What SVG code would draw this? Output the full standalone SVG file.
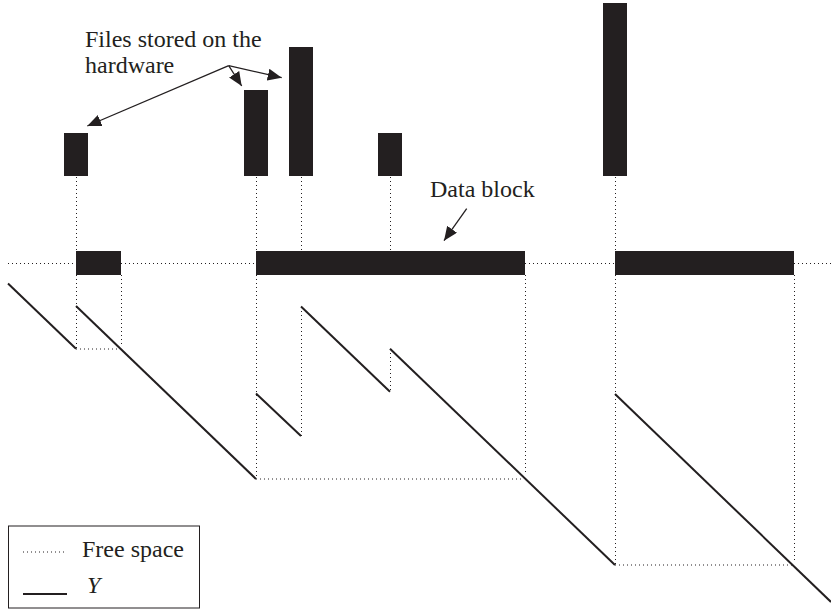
<svg xmlns="http://www.w3.org/2000/svg" width="831" height="610" viewBox="0 0 831 610">
<style>
.bar{fill:#231f20}
.dot{stroke:#231f20;stroke-width:1;stroke-dasharray:1 3;fill:none}
.y{stroke:#231f20;stroke-width:2;fill:none}
.arr{stroke:#231f20;stroke-width:1.3;fill:none;marker-end:url(#ah)}
.t{font-family:"Liberation Serif","Times New Roman",serif;font-size:24px;fill:#231f20}
</style>
<defs>
<marker id="ah" markerUnits="userSpaceOnUse" markerWidth="16" markerHeight="12" refX="14" refY="6" orient="auto">
<path d="M0,0 L14,6 L0,12 Z" fill="#231f20"/>
</marker>
</defs>
<rect width="831" height="610" fill="#fff"/>
<g id="files">
<rect class="bar" x="64" y="133" width="24" height="43"/>
<rect class="bar" x="244" y="90" width="24" height="86"/>
<rect class="bar" x="289" y="47" width="24" height="129"/>
<rect class="bar" x="378" y="133" width="24" height="43"/>
<rect class="bar" x="603" y="3" width="24" height="173"/>
</g>
<g id="free-space">
<line class="dot" x1="8" y1="263.5" x2="76" y2="263.5"/>
<line class="dot" x1="121" y1="263.5" x2="256" y2="263.5"/>
<line class="dot" x1="525" y1="263.5" x2="615" y2="263.5"/>
<line class="dot" x1="794" y1="263.5" x2="831" y2="263.5"/>
<line class="dot" x1="76.5" y1="177" x2="76.5" y2="251"/>
<line class="dot" x1="256.5" y1="177" x2="256.5" y2="251"/>
<line class="dot" x1="301.5" y1="177" x2="301.5" y2="251"/>
<line class="dot" x1="390.5" y1="177" x2="390.5" y2="251"/>
<line class="dot" x1="615.5" y1="177" x2="615.5" y2="251"/>
<line class="dot" x1="76.5" y1="275" x2="76.5" y2="349"/>
<line class="dot" x1="121.5" y1="275" x2="121.5" y2="344"/>
<line class="dot" x1="76" y1="349" x2="118" y2="349"/>
<line class="dot" x1="256.5" y1="275" x2="256.5" y2="479"/>
<line class="dot" x1="256" y1="479" x2="524" y2="479"/>
<line class="dot" x1="525.5" y1="275" x2="525.5" y2="474"/>
<line class="dot" x1="301.5" y1="307" x2="301.5" y2="436"/>
<line class="dot" x1="390.5" y1="349" x2="390.5" y2="392"/>
<line class="dot" x1="615.5" y1="275" x2="615.5" y2="565"/>
<line class="dot" x1="615" y1="565" x2="792" y2="565"/>
<line class="dot" x1="794.5" y1="275" x2="794.5" y2="560"/>
</g>
<g id="data-blocks">
<rect class="bar" x="76" y="251" width="45" height="24"/>
<rect class="bar" x="256" y="251" width="269" height="24"/>
<rect class="bar" x="615" y="251" width="179" height="24"/>
</g>
<g id="y-curve">
<line class="y" x1="8" y1="283.5" x2="76" y2="348.7"/>
<line class="y" x1="76" y1="306" x2="256" y2="479"/>
<line class="y" x1="256" y1="393.5" x2="301" y2="436"/>
<line class="y" x1="301" y1="306.5" x2="390" y2="391.7"/>
<line class="y" x1="390" y1="348.7" x2="615" y2="565"/>
<line class="y" x1="615" y1="394" x2="831" y2="602"/>
</g>
<g id="label-files">
<text class="t" x="85" y="47">Files stored on the</text>
<text class="t" x="85" y="73">hardware</text>
</g>
<g id="label-data-block">
<text class="t" x="430" y="197">Data block</text>
</g>
<g id="connectors">
<line class="arr" x1="228.7" y1="65.7" x2="87.3" y2="126"/>
<line class="arr" x1="228.7" y1="65.7" x2="241.7" y2="86"/>
<line class="arr" x1="228.7" y1="65.7" x2="281.7" y2="77.7"/>
<line class="arr" x1="466.7" y1="208.7" x2="444" y2="240.7"/>
</g>
<g id="legend">
<rect x="8.5" y="526" width="191" height="82" fill="none" stroke="#231f20" stroke-width="1"/>
<line class="dot" x1="23" y1="552" x2="67" y2="552"/>
<text class="t" x="82" y="557">Free space</text>
<line class="y" x1="23" y1="594" x2="67" y2="594"/>
<text class="t" x="87" y="593" font-style="italic">Y</text>
</g>
</svg>
